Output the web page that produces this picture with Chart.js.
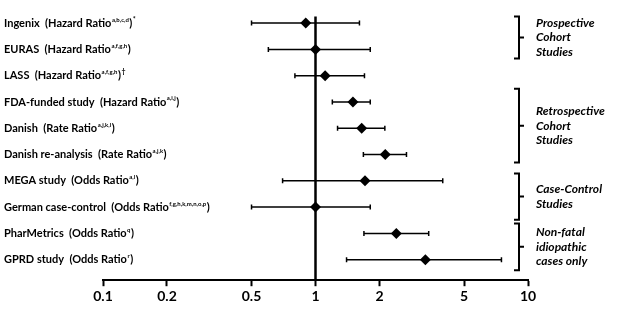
<!DOCTYPE html>
<html>
<head>
<meta charset="utf-8">
<script src="https://cdn.jsdelivr.net/npm/chart.js@4.4.0/dist/chart.umd.min.js"></script>
<style>
  html, body { margin: 0; padding: 0; background: #fff; }
  canvas { display: block; }
</style>
</head>
<body>
<canvas id="forest" width="617" height="315"></canvas>
<script>
// study rows, top to bottom
const studyNames = ['Ingenix', 'EURAS', 'LASS', 'FDA-funded study', 'Danish', 'Danish re-analysis',
  'MEGA study', 'German case-control', 'PharMetrics', 'GPRD study'];
const ratioTypes = ['Hazard Ratio', 'Hazard Ratio', 'Hazard Ratio', 'Hazard Ratio', 'Rate Ratio', 'Rate Ratio',
  'Odds Ratio', 'Odds Ratio', 'Odds Ratio', 'Odds Ratio'];
const footnotes = ['a,b,c,d', 'a,f,g,h', 'a,f,g,h', 'a,i,j', 'a,j,k,l', 'a,j,k',
  'a,l', 'f,g,h,k,m,n,o,p', 'q', 'r'];
const suffixMarks = ['*', '', '\u2020', '', '', '', '', '', '', ''];

// estimates and 95% CI
const estimates = [0.90, 1.00, 1.11, 1.50, 1.65, 2.13, 1.71, 1.00, 2.40, 3.29];
const ciLower   = [0.50, 0.60, 0.80, 1.20, 1.27, 1.68, 0.70, 0.50, 1.69, 1.40];
const ciUpper   = [1.61, 1.81, 1.70, 1.81, 2.12, 2.68, 3.97, 1.81, 3.41, 7.50];

const tickValues = [0.1, 0.2, 0.5, 1, 2, 5, 10];

// study groups (bracket spans in row units)
const groupLabels = [['Prospective', 'Cohort', 'Studies'], ['Retrospective', 'Cohort', 'Studies'],
  ['Case-Control', 'Studies'], ['Non-fatal', 'idiopathic', 'cases only']];
const groupStart = [0.75, 3.5, 6.72, 8.62];
const groupEnd   = [2.35, 6.3, 8.48, 10.4];

const rowIdx = studyNames.map((n, i) => i + 1);

const forestPlugin = {
  id: 'forestExtras',
  beforeDatasetsDraw(chart) {
    const ctx = chart.ctx;
    const xs = chart.scales.x, ys = chart.scales.y;
    ctx.save();
    ctx.strokeStyle = '#000';
    // reference line at 1
    ctx.lineWidth = 2.5;
    ctx.beginPath();
    ctx.moveTo(xs.getPixelForValue(1), ys.getPixelForValue(0.75));
    ctx.lineTo(xs.getPixelForValue(1), chart.chartArea.bottom);
    ctx.stroke();
    // error bars
    ctx.lineWidth = 1.5;
    rowIdx.forEach((r, i) => {
      const y = ys.getPixelForValue(r);
      const x1 = xs.getPixelForValue(ciLower[i]);
      const x2 = xs.getPixelForValue(ciUpper[i]);
      ctx.beginPath();
      ctx.moveTo(x1, y); ctx.lineTo(x2, y);
      ctx.moveTo(x1, y - 2.5); ctx.lineTo(x1, y + 2.5);
      ctx.moveTo(x2, y - 2.5); ctx.lineTo(x2, y + 2.5);
      ctx.stroke();
    });
    ctx.restore();
  },
  afterDraw(chart) {
    const ctx = chart.ctx;
    const ys = chart.scales.y;
    ctx.save();
    ctx.fillStyle = '#000';
    ctx.textBaseline = 'middle';
    ctx.textAlign = 'left';
    // study labels
    rowIdx.forEach((r, i) => {
      const y = ys.getPixelForValue(r);
      let x = 4;
      ctx.font = 'bold 11px Lato';
      const main = studyNames[i] + '  (' + ratioTypes[i];
      ctx.fillText(main, x, y);
      x += ctx.measureText(main).width + 0.5;
      ctx.font = 'bold 6px Lato';
      ctx.fillText(footnotes[i], x, y - 3.5);
      x += ctx.measureText(footnotes[i]).width + 0.5;
      ctx.font = 'bold 11px Lato';
      ctx.fillText(')', x, y);
      x += ctx.measureText(')').width + 0.5;
      if (suffixMarks[i]) {
        ctx.font = 'bold 7px Lato';
        ctx.fillText(suffixMarks[i], x, y - 3.5);
      }
    });
    // group brackets
    const bx = 519;
    ctx.strokeStyle = '#000';
    ctx.lineWidth = 2;
    groupLabels.forEach((lines, g) => {
      const y1 = ys.getPixelForValue(groupStart[g]);
      const y2 = ys.getPixelForValue(groupEnd[g]);
      const ym = (y1 + y2) / 2;
      ctx.beginPath();
      ctx.moveTo(bx - 5, y1); ctx.lineTo(bx, y1); ctx.lineTo(bx, y2); ctx.lineTo(bx - 5, y2);
      ctx.moveTo(bx, ym); ctx.lineTo(bx + 5, ym);
      ctx.stroke();
      ctx.font = 'italic bold 12px Lato';
      const lh = 14.5;
      lines.forEach((t, k) => {
        ctx.fillText(t, 536, ym + (k - (lines.length - 1) / 2) * lh);
      });
    });
    ctx.restore();
  }
};

new Chart(document.getElementById('forest'), {
  type: 'scatter',
  data: {
    datasets: [{
      data: rowIdx.map((r, i) => ({ x: estimates[i], y: r })),
      pointStyle: 'rectRot',
      pointRadius: 5.5,
      backgroundColor: '#000',
      borderColor: '#000',
      borderWidth: 0
    }]
  },
  options: {
    responsive: false,
    animation: false,
    devicePixelRatio: 1,
    layout: { padding: { left: 103, right: 89, top: 0, bottom: 8 } },
    plugins: { legend: { display: false }, tooltip: { enabled: false } },
    scales: {
      x: {
        type: 'logarithmic',
        min: 0.1,
        max: 10,
        afterBuildTicks: scale => { scale.ticks = tickValues.map(v => ({ value: v })); },
        ticks: {
          autoSkip: false,
          maxRotation: 0,
          color: '#000',
          padding: 2,
          font: { family: 'Lato', weight: 'bold', size: 14 },
          callback: v => String(v)
        },
        grid: { drawOnChartArea: false, drawTicks: true, tickLength: 6, color: '#000', tickWidth: 2 },
        border: { color: '#000', width: 2 }
      },
      y: {
        type: 'linear',
        min: 0.33,
        max: 10.78,
        reverse: true,
        display: false
      }
    }
  },
  plugins: [forestPlugin]
});
</script>
</body>
</html>
